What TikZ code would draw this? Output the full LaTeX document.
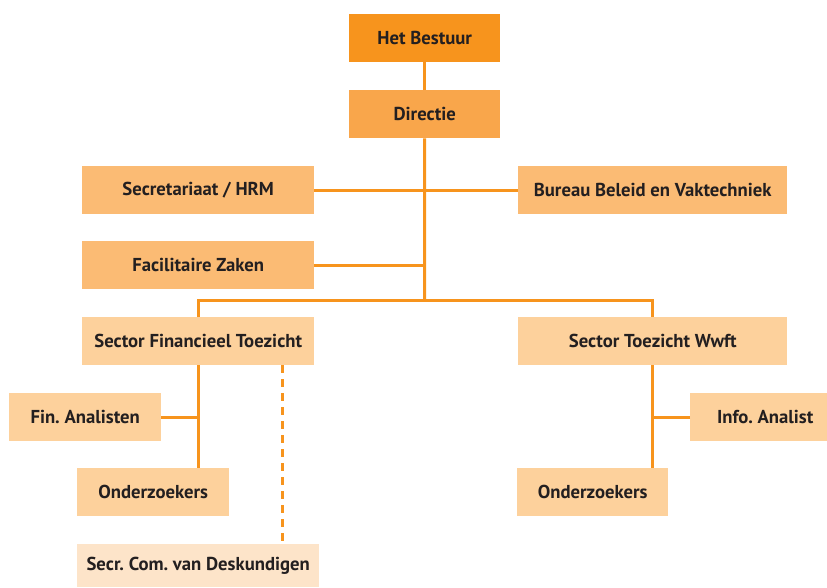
\documentclass[tikz,border=0pt]{standalone}
\usepackage{fontspec}
\setmainfont{PT Sans}
\frenchspacing
\begin{document}
\begin{tikzpicture}[x=1pt,y=-1pt,
  box/.style={rectangle,inner sep=0pt,anchor=north west,text=txt,
    font=\fontsize{18.7}{20}\selectfont\bfseries},
  link/.style={draw=lineor,line width=3pt},
]
\definecolor{txt}{HTML}{231F20}
\definecolor{lineor}{HTML}{F7941D}
\definecolor{lvA}{HTML}{F7941D}
\definecolor{lvB}{HTML}{F9A64B}
\definecolor{lvC}{HTML}{FBBB74}
\definecolor{lvD}{HTML}{FDD19C}
\definecolor{lvE}{HTML}{FDE4C9}
\useasboundingbox (0,0) rectangle (827,587);

% boxes: fill colour, top-left corner, size
\node[box,fill=lvA,minimum width=151pt,minimum height=48pt] (bestuur) at (349,14) {Het Bestuur};
\node[box,fill=lvB,minimum width=151pt,minimum height=48pt] (directie) at (349,90) {Directie};
\node[box,fill=lvC,minimum width=232pt,minimum height=48pt] (secr) at (82,166) {Secretariaat / HRM};
\node[box,fill=lvC,minimum width=269pt,minimum height=48pt] (bureau) at (518,166) {Bureau Beleid en Vaktechniek};
\node[box,fill=lvC,minimum width=232pt,minimum height=48pt] (fac) at (82,241) {Facilitaire Zaken};
\node[box,fill=lvD,minimum width=232pt,minimum height=48pt] (sft) at (82,317) {Sector Financieel Toezicht};
\node[box,fill=lvD,minimum width=269pt,minimum height=48pt] (stw) at (518,317) {Sector Toezicht Wwft};
\node[box,fill=lvD,minimum width=152pt,minimum height=48pt] (fin) at (9,393) {Fin. Analisten};
\node[box,fill=lvD,minimum width=152pt,minimum height=48pt] (ondL) at (77,468) {Onderzoekers};
\node[box,fill=lvE,minimum width=242pt,minimum height=43pt] (deskundigen) at (77,544) {Secr. Com. van Deskundigen};
\node[box,fill=lvD,minimum width=137pt,minimum height=48pt] (info) at (690,393) {\hspace*{13pt}Info. Analist};
\node[box,fill=lvD,minimum width=151pt,minimum height=48pt] (ondR) at (517,468) {Onderzoekers};

\coordinate (split) at (424.5,300);

% management line
\draw[link] (bestuur) -- (directie);
\draw[link] (directie.south) -- (split);
\draw[link] (secr.east) -- (bureau.west);
\draw[link] (fac.east) -- (fac.east -| directie.south);
\draw[link] (sft.north) |- (split) -| (stw.north);

% sector Financieel Toezicht
\draw[link] (sft.south) -- (sft.south |- ondL.north);
\draw[link] (fin.east) -- (fin.east -| sft.south);
\draw[link,dash pattern=on 8pt off 6pt] ([xshift=84pt]sft.south) -- ([xshift=84pt]sft.south |- deskundigen.north);

% sector Toezicht Wwft
\draw[link] (stw.south) -- (stw.south |- ondR.north);
\draw[link] (info.west) -- (info.west -| stw.south);
\end{tikzpicture}
\end{document}
